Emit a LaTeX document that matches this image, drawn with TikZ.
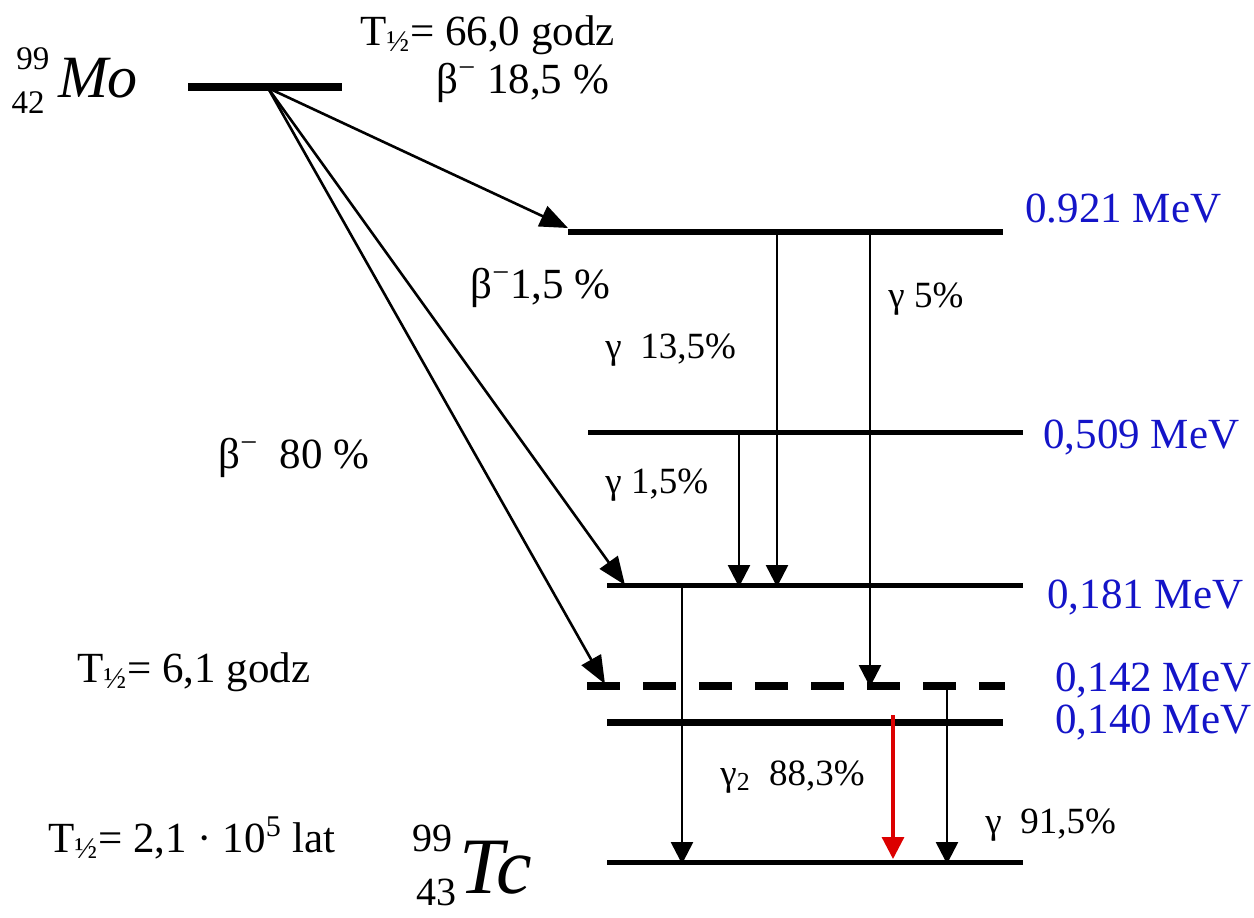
\documentclass[tikz,border=0pt]{standalone}
\usepackage{fontspec}
\setmainfont{Liberation Serif}
\usetikzlibrary{arrows.meta}
\definecolor{mevblue}{RGB}{20,20,200}
\definecolor{arrred}{RGB}{220,0,0}
\begin{document}
\begin{tikzpicture}[x=0.5pt,y=-0.5pt,
  lvl/.style={line width=2.5pt},
  tr/.style={line width=1.3pt,-{Triangle[length=11pt,width=11pt]}},
  btr/.style={line width=1.3pt,-{Triangle[length=14pt,width=11pt]}},
  lab/.style={font=\fontsize{21.5}{24}\selectfont, inner sep=0pt, anchor=base west},
  glab/.style={font=\fontsize{18.5}{22}\selectfont, inner sep=0pt, anchor=base west},
  mev/.style={lab, text=mevblue},
  iso/.style={font=\fontsize{30}{34}\selectfont\itshape, inner sep=0pt},
  nuc/.style={font=\fontsize{16.5}{20}\selectfont, inner sep=0pt}]
\useasboundingbox (0,0) rectangle (1254,917);

% levels
\coordinate (moL) at (188,87);  \coordinate (moR) at (342,87);
\coordinate (l921L) at (568,232); \coordinate (l921R) at (1003,232);
\coordinate (l509L) at (588,432); \coordinate (l509R) at (1023,432);
\coordinate (l181L) at (607,585); \coordinate (l181R) at (1023,585);
\coordinate (l142L) at (587,686); \coordinate (l142R) at (1005,686);
\coordinate (l140L) at (607,722); \coordinate (l140R) at (1003,722);
\coordinate (l0L) at (607,862);   \coordinate (l0R) at (1023,862);

\draw[line width=4pt] (moL) -- (moR);
\draw[line width=3pt] (l921L) -- (l921R);
\draw[lvl] (l509L) -- (l509R);
\draw[lvl] (l181L) -- (l181R);
\draw[line width=4pt, dash pattern=on 16.5pt off 11.5pt] (l142L) -- (l142R);
\draw[line width=3.5pt] (l140L) -- (l140R);
\draw[lvl] (l0L) -- (l0R);

% beta transitions
\coordinate (mo) at (268,88);
\coordinate (b1) at (568,228);
\coordinate (b2) at (625,585);
\coordinate (b3) at (605,684);
\draw[btr] (mo) -- (b1);
\draw[btr] (mo) -- (b2);
\draw[btr] (mo) -- (b3);

% gamma transitions
\coordinate (g1s) at (777,232); \coordinate (g1e) at (777,587);
\coordinate (g2s) at (870,232); \coordinate (g2e) at (870,687);
\coordinate (g3s) at (739,432); \coordinate (g3e) at (739,587);
\coordinate (g4s) at (682,585); \coordinate (g4e) at (682,864);
\coordinate (g5s) at (893,715); \coordinate (g5e) at (893,859);
\coordinate (g6s) at (947,686); \coordinate (g6e) at (947,864);
\draw[tr] (g1s) -- (g1e);
\draw[tr] (g2s) -- (g2e);
\draw[tr] (g3s) -- (g3e);
\draw[tr] (g4s) -- (g4e);
\draw[tr, line width=1.6pt, draw=arrred, fill=arrred] (g5s) -- (g5e);
\draw[tr] (g6s) -- (g6e);

% energy labels
\node[mev] (e921) at (1025,222) {0.921 MeV};
\node[mev] (e509) at (1043,448) {0,509 MeV};
\node[mev] (e181) at (1047,608) {0,181 MeV};
\node[mev] (e142) at (1055,691) {0,142 MeV};
\node[mev] (e140) at (1055,733) {0,140 MeV};

% texts
\node[lab] (t1) at (360,45) {T\textsubscript{½}= 66,0 godz};
\node[lab] (bt1) at (436,93) {β\textsuperscript{−} 18,5 \%};
\node[lab] (bt2) at (470,298) {β\textsuperscript{−}1,5 \%};
\node[lab] (bt3) at (218,468) {β\textsuperscript{−}\ \ 80 \%};
\node[lab] (t2) at (77,682) {T\textsubscript{½}= 6,1 godz};
\node[lab] (t3) at (48,852) {T\textsubscript{½}= 2,1 · 10\textsuperscript{5} lat};

\node[glab] (gl1) at (605,358) {γ\ \ 13,5\%};
\node[glab] (gl2) at (888,307) {γ 5\%};
\node[glab] (gl3) at (605,493) {γ 1,5\%};
\node[glab] (gl4) at (720,785) {γ\textsubscript{2}\ \ 88,3\%};
\node[glab] (gl5) at (985,833) {γ\ \ 91,5\%};

% isotopes
\node[iso] (mo-sym) at (98,78) {Mo};
\node[nuc] (mo-a) at (33,59) {99};
\node[nuc] (mo-z) at (28,103) {42};
\node[iso, font=\fontsize{40}{44}\selectfont\itshape] (tc-sym) at (496,868) {Tc};
\node[nuc, font=\fontsize{20}{22}\selectfont] (tc-a) at (432,838) {99};
\node[nuc, font=\fontsize{20}{22}\selectfont] (tc-z) at (436,892) {43};
\end{tikzpicture}
\end{document}
